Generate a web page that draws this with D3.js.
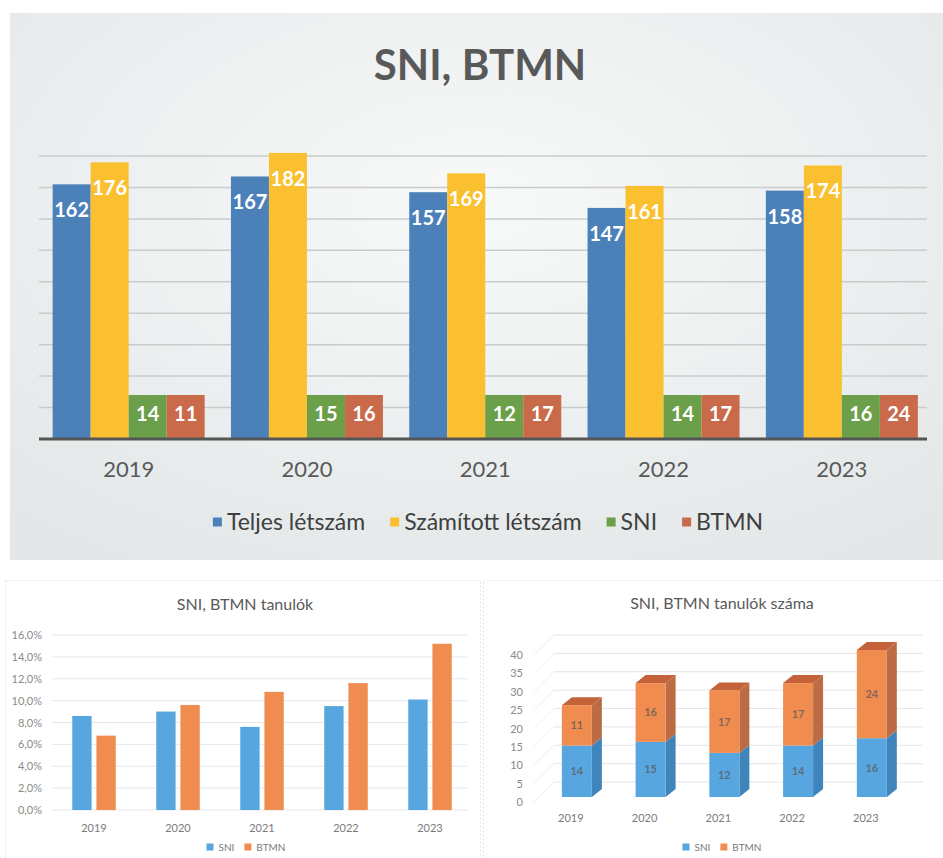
<!DOCTYPE html>
<html lang="hu">
<head>
<meta charset="UTF-8" />
<title>SNI, BTMN</title>
<script src="https://d3js.org/d3.v7.min.js"></script>
<style>
  body { margin: 0; background: #fff; }
  svg { display: block; font-family: Lato, "Open Sans", sans-serif; }
</style>
</head>
<body>
<svg id="chart" width="943" height="858"></svg>
<script>
// values
const years = ["2019", "2020", "2021", "2022", "2023"];
const seriesNames = ["Teljes létszám", "Számított létszám", "SNI", "BTMN"];
const teljes = [162, 167, 157, 147, 158];
const szamitott = [176, 182, 169, 161, 174];
const sni = [14, 15, 12, 14, 16];
const btmn = [11, 16, 17, 17, 24];
const sniPct = [8.6, 9.0, 7.6, 9.5, 10.1];
const btmnPct = [6.8, 9.6, 10.8, 11.6, 15.2];

const svg = d3.select("#chart");

// ---------- top chart ----------
const topColors = ["#4c80b8", "#fac030", "#6b9f49", "#c96a4b"];
const topValues = [teljes, szamitott, sni, btmn];

const defs = svg.append("defs");
const grad = defs.append("radialGradient").attr("id", "panelBg")
  .attr("cx", "50%").attr("cy", "35%").attr("r", "75%");
grad.append("stop").attr("offset", "0%").attr("stop-color", "#f8f9f9");
grad.append("stop").attr("offset", "100%").attr("stop-color", "#e3e7e8");

svg.append("rect")
  .attr("x", 10).attr("y", 13).attr("width", 933).attr("height", 547)
  .attr("fill", "url(#panelBg)");

svg.append("text")
  .attr("x", 480).attr("y", 80)
  .attr("text-anchor", "middle")
  .attr("font-size", 42).attr("font-weight", "bold")
  .attr("fill", "#595959")
  .text("SNI, BTMN");

const x0 = d3.scaleBand().domain(years).range([39.5, 931]);
const x1 = d3.scaleBand().domain(seriesNames)
  .range([0, x0.bandwidth()]).paddingInner(0).paddingOuter(0.346);
const y = d3.scaleLinear().domain([0, 200]).range([439, 124.6]);

// gridlines
svg.append("g").selectAll("line")
  .data(y.ticks(10).filter(v => v > 0 && v < 200))
  .join("line")
  .attr("x1", 39).attr("x2", 927)
  .attr("y1", d => y(d)).attr("y2", d => y(d))
  .attr("stroke", "#c9cbcc").attr("stroke-width", 1.5);

const topData = [];
years.forEach((yr, i) => {
  seriesNames.forEach((s, j) => {
    topData.push({ year: yr, series: s, value: topValues[j][i], color: topColors[j] });
  });
});

const boxH = 44;
const bars = svg.append("g").selectAll("g").data(topData).join("g");
bars.append("rect")
  .attr("x", d => x0(d.year) + x1(d.series))
  .attr("width", x1.bandwidth())
  .attr("y", d => Math.min(y(d.value), y(0) - boxH))
  .attr("height", d => Math.max(y(0) - y(d.value), boxH))
  .attr("fill", d => d.color);
bars.append("text")
  .attr("x", d => x0(d.year) + x1(d.series) + x1.bandwidth() / 2)
  .attr("y", d => (y(0) - y(d.value) < boxH) ? y(0) - boxH + 26 : y(d.value) + 33)
  .attr("text-anchor", "middle")
  .attr("font-size", 20).attr("font-weight", "bold")
  .attr("fill", "#fff")
  .text(d => d.value);

// x axis
svg.append("line")
  .attr("x1", 39).attr("x2", 927).attr("y1", 439).attr("y2", 439)
  .attr("stroke", "#555").attr("stroke-width", 3);
svg.append("g").selectAll("text").data(years).join("text")
  .attr("x", d => x0(d) + x0.bandwidth() / 2)
  .attr("y", 477)
  .attr("text-anchor", "middle")
  .attr("font-size", 22).attr("fill", "#595959")
  .text(d => d);

// legend
function legend(parent, names, colors, cx, cy, size, sq, gap, fill) {
  const g = parent.append("g");
  const items = g.selectAll("g").data(names).join("g");
  items.append("rect").attr("width", sq).attr("height", sq)
    .attr("y", cy - sq / 2).attr("fill", (d, i) => colors[i]);
  items.append("text").attr("x", sq + 5).attr("y", cy + size * 0.36)
    .attr("font-size", size).attr("fill", fill).text(d => d);
  let pos = 0;
  items.each(function () {
    const w = sq + 5 + d3.select(this).select("text").node().getComputedTextLength();
    d3.select(this).attr("transform", `translate(${pos},0)`);
    pos += w + gap;
  });
  g.attr("transform", `translate(${cx - (pos - gap) / 2},0)`);
}
legend(svg, seriesNames, topColors, 488, 522, 23, 9, 25, "#404040");

// ---------- bottom frames ----------
svg.append("rect").attr("x", 5.5).attr("y", 580.5).attr("width", 475).attr("height", 290)
  .attr("fill", "none").attr("stroke", "#e2e2e2").attr("stroke-dasharray", "2,2");
svg.append("rect").attr("x", 483.5).attr("y", 580.5).attr("width", 470).attr("height", 290)
  .attr("fill", "none").attr("stroke", "#e2e2e2").attr("stroke-dasharray", "2,2");

const sniColor = "#58a6df", btmnColor = "#f08c4f";

// ---------- bottom-left: percentages ----------
const bl = svg.append("g");
bl.append("text").attr("x", 245).attr("y", 610).attr("text-anchor", "middle")
  .attr("font-size", 16).attr("fill", "#595959").text("SNI, BTMN tanulók");

const bx0 = d3.scaleBand().domain(years).range([52, 472]);
const bx1 = d3.scaleBand().domain(["SNI", "BTMN"]).range([20.25, 63.75]).paddingInner(0.2);
const by = d3.scaleLinear().domain([0, 16]).range([810, 635]);
const pctFmt = v => d3.format(".1f")(v).replace(".", ",") + "%";

bl.append("g").selectAll("line").data(by.ticks(8)).join("line")
  .attr("x1", 52).attr("x2", 467)
  .attr("y1", d => by(d)).attr("y2", d => by(d))
  .attr("stroke", "#e4e6e8").attr("stroke-width", 1);
bl.append("g").selectAll("text").data(by.ticks(8)).join("text")
  .attr("x", 42).attr("y", d => by(d) + 4)
  .attr("text-anchor", "end").attr("font-size", 11).attr("fill", "#8a8a8a")
  .text(pctFmt);

const blData = [];
years.forEach((yr, i) => {
  blData.push({ year: yr, s: "SNI", v: sniPct[i], c: sniColor });
  blData.push({ year: yr, s: "BTMN", v: btmnPct[i], c: btmnColor });
});
bl.append("g").selectAll("rect").data(blData).join("rect")
  .attr("x", d => bx0(d.year) + bx1(d.s))
  .attr("width", bx1.bandwidth())
  .attr("y", d => by(d.v))
  .attr("height", d => by(0) - by(d.v))
  .attr("fill", d => d.c);
bl.append("g").selectAll("text").data(years).join("text")
  .attr("x", d => bx0(d) + bx0.bandwidth() / 2).attr("y", 832)
  .attr("text-anchor", "middle").attr("font-size", 11).attr("fill", "#7a7a7a")
  .text(d => d);
legend(bl, ["SNI", "BTMN"], [sniColor, btmnColor], 246, 847, 10, 7, 10, "#7a7a7a");

// ---------- bottom-right: 3D stacked ----------
const br = svg.append("g");
br.append("text").attr("x", 722).attr("y", 609).attr("text-anchor", "middle")
  .attr("font-size", 16).attr("fill", "#595959").text("SNI, BTMN tanulók száma");

const cx0 = d3.scaleBand().domain(years).range([534, 902.7]);
const cy = d3.scaleLinear().domain([0, 40]).range([802, 655]);
const wallDx = 20, wallDy = -20;
const barW = 30, depDx = 10, depDy = -8, barOffX = 6, barOffY = -5;

const ticks3d = cy.ticks(8);
br.append("g").selectAll("line").data(ticks3d).join("line")
  .attr("x1", 534 + wallDx).attr("x2", 902.7 + wallDx)
  .attr("y1", d => cy(d) + wallDy).attr("y2", d => cy(d) + wallDy)
  .attr("stroke", "#e3e5e8").attr("stroke-width", 1);
br.append("g").selectAll("line").data(ticks3d).join("line")
  .attr("x1", 534).attr("x2", 534 + wallDx)
  .attr("y1", d => cy(d)).attr("y2", d => cy(d) + wallDy)
  .attr("stroke", "#eceef0").attr("stroke-width", 1);
br.append("g").selectAll("text").data(ticks3d).join("text")
  .attr("x", 523).attr("y", d => cy(d) + 4)
  .attr("text-anchor", "end").attr("font-size", 11).attr("fill", "#8a8a8a")
  .text(d => d);

const segs = [];
years.forEach((yr, i) => {
  segs.push({ year: yr, lo: 0, hi: sni[i], v: sni[i], front: sniColor, side: "#3f84ba", top: "#4a93cc", last: false });
  segs.push({ year: yr, lo: sni[i], hi: sni[i] + btmn[i], v: btmn[i], front: btmnColor, side: "#bb6c44", top: "#c4633a", last: true });
});
const fx = d => cx0(d.year) + (cx0.bandwidth() - barW) / 2 + barOffX;
const sg = br.append("g").selectAll("g").data(segs).join("g");
sg.append("polygon")
  .attr("points", d => {
    const x = fx(d) + barW, yt = cy(d.hi) + barOffY, yb = cy(d.lo) + barOffY;
    return [[x, yt], [x + depDx, yt + depDy], [x + depDx, yb + depDy], [x, yb]].join(" ");
  })
  .attr("fill", d => d.side);
sg.filter(d => d.last).append("polygon")
  .attr("points", d => {
    const x = fx(d), yt = cy(d.hi) + barOffY;
    return [[x, yt], [x + depDx, yt + depDy], [x + barW + depDx, yt + depDy], [x + barW, yt]].join(" ");
  })
  .attr("fill", d => d.top);
sg.append("rect")
  .attr("x", fx).attr("width", barW)
  .attr("y", d => cy(d.hi) + barOffY)
  .attr("height", d => cy(d.lo) - cy(d.hi))
  .attr("fill", d => d.front);
sg.append("text")
  .attr("x", d => fx(d) + barW / 2)
  .attr("y", d => (cy(d.lo) + cy(d.hi)) / 2 + barOffY + 4)
  .attr("text-anchor", "middle").attr("font-size", 11).attr("font-weight", "bold")
  .attr("fill", "#5a5a5a").attr("fill-opacity", 0.75)
  .text(d => d.v);

br.append("g").selectAll("text").data(years).join("text")
  .attr("x", d => cx0(d) + cx0.bandwidth() / 2).attr("y", 822)
  .attr("text-anchor", "middle").attr("font-size", 11).attr("fill", "#7a7a7a")
  .text(d => d);
legend(br, ["SNI", "BTMN"], [sniColor, btmnColor], 722, 847, 10, 7, 10, "#7a7a7a");
</script>
</body>
</html>
